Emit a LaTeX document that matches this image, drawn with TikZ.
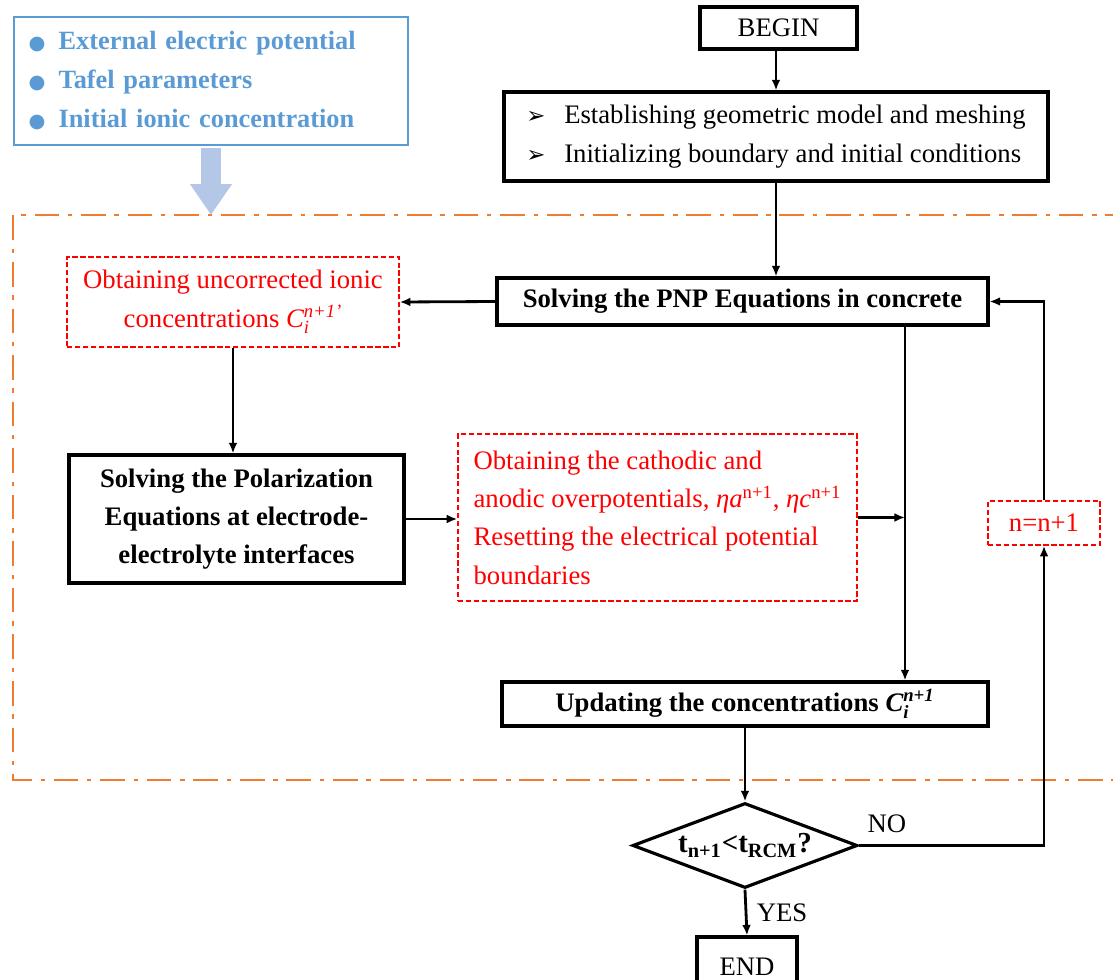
\documentclass[tikz,border=0pt]{standalone}
\usepackage{amsmath}
\usepackage{fontspec}
\setmainfont{Liberation Serif}
\newfontfamily\dejavu{DejaVu Sans}
\usetikzlibrary{arrows.meta,shapes.geometric}
\definecolor{frameorange}{RGB}{237,125,49}
\definecolor{inputblue}{RGB}{91,155,213}
\definecolor{arrowblue}{RGB}{180,199,231}
\newcommand\itx[1]{\text{\itshape #1}}

\begin{document}
\begin{tikzpicture}[x=0.02cm,y=-0.02cm,
  font=\fontsize{15.2}{21.8}\selectfont,
  solid box/.style={draw,line width=1.8pt,inner sep=0pt,align=center},
  bold box/.style={solid box,font=\fontsize{15.2}{21.8}\selectfont\bfseries},
  red box/.style={draw=red,dash pattern=on 3pt off 1.5pt,line width=0.9pt,text=red,inner sep=0pt},
  flow/.style={line width=1.6pt,-{Latex[length=6pt,width=5pt]}},
  frame/.style={draw=frameorange,line width=1.7pt,dash pattern=on 14pt off 5pt on 2.5pt off 5pt}]
\useasboundingbox (0,0) rectangle (1113,980);
\coordinate (frameNW) at (13,215);
\coordinate (frameSW) at (13,780);
\coordinate (merge) at (905,518);
\draw[frame] (1130,215) -- (frameNW) -- (frameSW) -- (1130,780);
\node[draw=inputblue,line width=1.6pt,minimum width=7.88cm,minimum height=2.56cm,inner sep=0pt,
  text width=7.3cm,align=left,text=inputblue,font=\fontsize{15}{22.2}\selectfont\bfseries] (inputs) at (211,81)
  {{\dejavu\fontsize{11}{11}\selectfont ●}\enspace External electric potential\\
   {\dejavu\fontsize{11}{11}\selectfont ●}\enspace Tafel parameters\\
   {\dejavu\fontsize{11}{11}\selectfont ●}\enspace Initial ionic concentration};
\draw[line width=0.4cm,arrowblue,-{Triangle[width=0.8cm,length=0.62cm]}] ([yshift=-1pt]inputs.south) -- (inputs.south |- frameNW);
\node[solid box,minimum width=3.14cm,minimum height=0.84cm] (begin) at (778.5,28) {BEGIN};
\node[solid box,minimum width=10.88cm,minimum height=1.78cm,align=left] (init) at (776,136.5)
  {{\dejavu\fontsize{13}{13}\selectfont ➢}\hspace{0.7em}Establishing geometric model and meshing\\
   {\dejavu\fontsize{13}{13}\selectfont ➢}\hspace{0.7em}Initializing boundary and initial conditions};
\node[bold box,minimum width=9.82cm,minimum height=0.94cm] (pnp) at (742.5,301.5) {Solving the PNP Equations in concrete};
\node[red box,minimum width=6.64cm,minimum height=1.8cm,align=center] (uncorr) at (233,302)
  {Obtaining uncorrected ionic\\concentrations $\itx{C}_{\itx{i}}^{\itx{n+1’}}$};
\node[bold box,minimum width=6.7cm,minimum height=2.56cm] (polar) at (236.5,519)
  {Solving the Polarization\\Equations at electrode-\\electrolyte interfaces};
\node[red box,minimum width=7.98cm,minimum height=3.34cm,align=left] (reset) at (657.5,517.5)
  {Obtaining the cathodic and\\anodic overpotentials, \textit{ηa}\textsuperscript{n+1}, \textit{ηc}\textsuperscript{n+1}\\Resetting the electrical potential\\boundaries};
\node[bold box,minimum width=9.72cm,minimum height=0.88cm] (update) at (745,704)
  {Updating the concentrations $\itx{C}_{\itx{i}}^{\itx{n+1}}$};
\node[draw,diamond,aspect=2.65,line width=1.8pt,minimum width=4.5cm,minimum height=1.7cm,inner sep=0pt,
  font=\fontsize{16.5}{18}\selectfont\bfseries] (check) at (745,845.5) {t\textsubscript{n+1}<t\textsubscript{RCM}?};
\node[solid box,minimum width=2cm,minimum height=1.2cm] (end) at (747,967) {END};
\node[red box,minimum width=2.24cm,minimum height=0.88cm] (incr) at (1044,523) {n=n+1};
\draw[flow] (begin.south -| init) -- (init.north);
\draw[flow] (init.south) -- (init.south |- pnp.north);
\draw[flow] (pnp.west) -- (uncorr.east);
\draw[flow] (uncorr.south) -- (uncorr.south |- polar.north);
\draw[flow] (polar.east) -- (polar.east -| reset.west);
\draw[flow] (pnp.south -| merge) -- (merge |- update.north);
\draw[flow] (reset.east) -- (reset.east -| merge);
\draw[flow] (update.south) -- (check.north);
\draw[flow] (check.east) -| (incr.south) node[pos=0.075,above=3pt] {NO};
\draw[flow] (incr.north) |- (pnp.east);
\draw[flow] (check.south) -- (end.north) node[midway,right=2pt] {YES};
\end{tikzpicture}
\end{document}
